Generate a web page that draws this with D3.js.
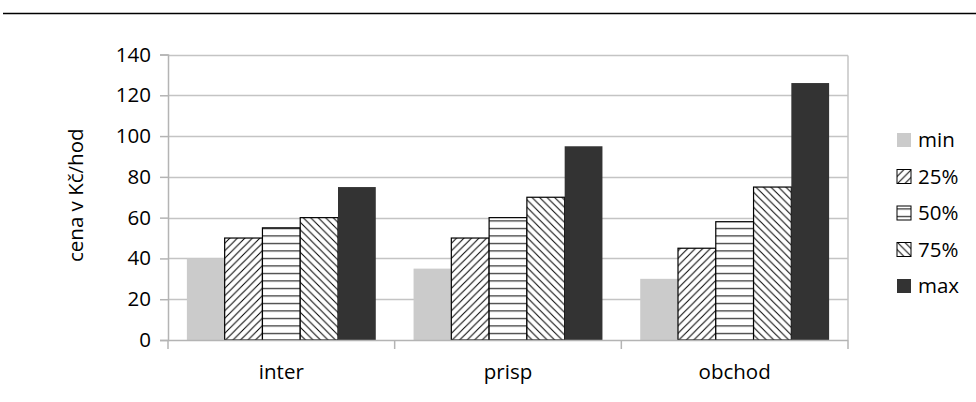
<!DOCTYPE html>
<html>
<head>
<meta charset="utf-8">
<script src="https://cdn.jsdelivr.net/npm/d3@7"></script>
<style>
  body { margin: 0; background: #fff; }
  text { font-family: "Open Sans", "Noto Sans", sans-serif; fill: #000; }
</style>
</head>
<body>
<svg id="chart"></svg>
<script>
// ─── DATA ─────────────────────────────────────────────────────────────────────

const categories = ["inter", "prisp", "obchod"];
const series = ["min", "25%", "50%", "75%", "max"];
const values = {
  "min": [40, 35, 30],
  "25%": [50, 50, 45],
  "50%": [55, 60, 58],
  "75%": [60, 70, 75],
  "max": [75, 95, 126],
};
const yTicks = [0, 20, 40, 60, 80, 100, 120, 140];
const yTitle = "cena v Kč/hod";

// ─── DIMENSIONS ───────────────────────────────────────────────────────────────

const width = 976,
  height = 402,
  fontSize = 20.5,
  plot = { left: 168, right: 848, top: 54.5, bottom: 340 };

const svg = d3
  .select("#chart")
  .attr("width", width)
  .attr("height", height);

// fill for each series: solid colour or a hatch pattern id
const fills = {
  "min": "#cbcbcb",
  "25%": "url(#hatch-fwd)",
  "50%": "url(#hatch-hor)",
  "75%": "url(#hatch-back)",
  "max": "#333333",
};
const outlined = new Set(["25%", "50%", "75%"]);

// ─── PATTERNS ─────────────────────────────────────────────────────────────────

const defs = svg.append("defs");

function hatch(id, w, h, paths) {
  const p = defs
    .append("pattern")
    .attr("id", id)
    .attr("patternUnits", "userSpaceOnUse")
    .attr("width", w)
    .attr("height", h);
  p.append("rect").attr("width", w).attr("height", h).attr("fill", "#fff");
  p.append("path")
    .attr("d", paths)
    .attr("stroke", "#000")
    .attr("stroke-width", 1)
    .attr("fill", "none");
}

hatch("hatch-fwd", 7.5, 7.5, "M-2,2L2,-2M0,7.5L7.5,0M5.5,9.5L9.5,5.5");
hatch("hatch-back", 7.5, 7.5, "M-2,5.5L2,9.5M0,0L7.5,7.5M5.5,-2L9.5,2");
hatch("hatch-hor", 8, 7.5, "M0,3.5H8");

// ─── SCALES ───────────────────────────────────────────────────────────────────

const x0 = d3
  .scaleBand()
  .domain(categories)
  .range([plot.left, plot.right])
  .padding(0);

const x1 = d3
  .scaleBand()
  .domain(series)
  .range([0, x0.bandwidth()])
  .paddingInner(0)
  .paddingOuter(0.5);

const y = d3
  .scaleLinear()
  .domain([0, 140])
  .range([plot.bottom, plot.top]);

// ─── GRID & FRAME ─────────────────────────────────────────────────────────────

// thin black rule across the top of the page
svg.append("line")
  .attr("x1", 3).attr("x2", width)
  .attr("y1", 13.5).attr("y2", 13.5)
  .attr("stroke", "#000").attr("stroke-width", 1.5);

svg.append("g")
  .selectAll("line")
  .data(yTicks.filter((d) => d > 0))
  .join("line")
  .attr("x1", plot.left)
  .attr("x2", plot.right)
  .attr("y1", (d) => Math.round(y(d)) + 0.5)
  .attr("y2", (d) => Math.round(y(d)) + 0.5)
  .attr("stroke", "#c4c4c4")
  .attr("stroke-width", 1.5);

svg.append("line")
  .attr("x1", plot.right).attr("x2", plot.right)
  .attr("y1", Math.round(y(140)) + 0.5).attr("y2", plot.bottom)
  .attr("stroke", "#c4c4c4").attr("stroke-width", 1.5);

// ─── BARS ─────────────────────────────────────────────────────────────────────

const groups = svg
  .append("g")
  .selectAll("g")
  .data(categories)
  .join("g")
  .attr("transform", (c) => `translate(${x0(c)},0)`);

groups
  .selectAll("rect")
  .data((c, i) => series.map((s) => ({ s, v: values[s][i] })))
  .join("rect")
  .attr("x", (d) => x1(d.s))
  .attr("y", (d) => y(d.v))
  .attr("width", x1.bandwidth())
  .attr("height", (d) => y(0) - y(d.v))
  .attr("fill", (d) => fills[d.s])
  .attr("stroke", (d) => (outlined.has(d.s) ? "#000" : "none"))
  .attr("stroke-width", 1.2);

// ─── AXES ─────────────────────────────────────────────────────────────────────

const yAxis = svg
  .append("g")
  .attr("transform", `translate(${plot.left},0)`)
  .call(d3.axisLeft(y).tickValues(yTicks).tickSize(8).tickPadding(9));

const xAxis = svg
  .append("g")
  .attr("transform", `translate(0,${plot.bottom})`)
  .call(d3.axisBottom(x0).tickSize(0).tickPadding(24));

// category boundary ticks
svg.append("g")
  .selectAll("line")
  .data(categories.concat([null]))
  .join("line")
  .attr("x1", (c) => (c ? x0(c) : plot.right))
  .attr("x2", (c) => (c ? x0(c) : plot.right))
  .attr("y1", plot.bottom)
  .attr("y2", plot.bottom + 9)
  .attr("stroke", "#b4b4b4")
  .attr("stroke-width", 1.5);

[yAxis, xAxis].forEach((g) => {
  g.selectAll(".domain").attr("stroke", "#b4b4b4").attr("stroke-width", 1.5);
  g.selectAll(".tick line").attr("stroke", "#b4b4b4").attr("stroke-width", 1.5);
  g.selectAll("text")
    .attr("font-family", "Open Sans, sans-serif")
    .attr("font-size", fontSize)
    .attr("fill", "#000");
});
xAxis.select(".domain").attr("d", `M${plot.left},0.5H${plot.right}`);

svg.append("text")
  .attr("transform", `translate(83,${(plot.top + plot.bottom) / 2 - 2}) rotate(-90)`)
  .attr("text-anchor", "middle")
  .attr("font-size", fontSize)
  .text(yTitle);

// ─── LEGEND ───────────────────────────────────────────────────────────────────

const legend = svg
  .append("g")
  .selectAll("g")
  .data(series)
  .join("g")
  .attr("transform", (d, i) => `translate(897,${140 + i * 36.5})`);

legend
  .append("rect")
  .attr("x", 0)
  .attr("y", -7)
  .attr("width", 14)
  .attr("height", 14)
  .attr("fill", (d) => fills[d])
  .attr("stroke", (d) => (outlined.has(d) ? "#000" : "none"));

legend
  .append("text")
  .attr("x", 21)
  .attr("dy", "0.35em")
  .attr("font-size", fontSize)
  .text((d) => d);
</script>
</body>
</html>
